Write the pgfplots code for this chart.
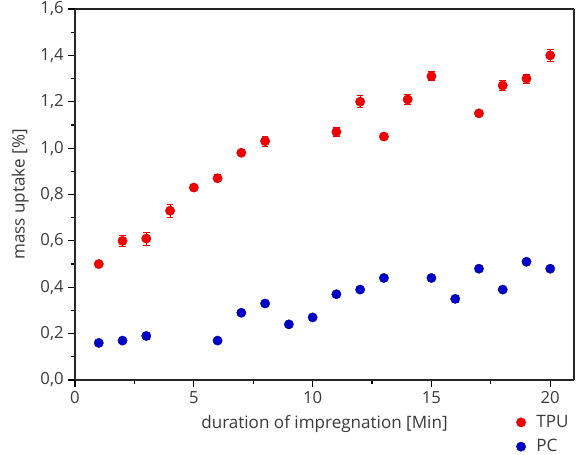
\documentclass[border=0pt]{standalone}
\usepackage{pgfplots}
\pgfplotsset{compat=1.18}
\usepackage{fontspec}
\setmainfont{Open Sans}
\definecolor{tpured}{HTML}{F00000}
\definecolor{pcblue}{HTML}{0000C8}
\definecolor{ticktext}{HTML}{3A3A3A}

\pgfplotstableread{
x   y     e
1   0.50  0.010
2   0.60  0.025
3   0.61  0.028
4   0.73  0.028
5   0.83  0.012
6   0.87  0.015
7   0.98  0.012
8   1.03  0.022
11  1.07  0.018
12  1.20  0.026
13  1.05  0.010
14  1.21  0.020
15  1.31  0.020
17  1.15  0.010
18  1.27  0.020
19  1.30  0.020
20  1.40  0.025
}\tputable

\pgfplotstableread{
x   y     e
1   0.16  0.012
2   0.17  0.008
3   0.19  0.014
6   0.17  0.008
7   0.29  0.012
8   0.33  0.008
9   0.24  0.012
10  0.27  0.012
11  0.37  0.010
12  0.39  0.008
13  0.44  0.008
15  0.44  0.008
16  0.35  0.014
17  0.48  0.010
18  0.39  0.008
19  0.51  0.010
20  0.48  0.008
}\pctable

\begin{document}
\begin{tikzpicture}
\begin{axis}[
    at={(0,0)}, anchor=origin,
    scale only axis,
    width=374.25pt, height=278.25pt,
    xmin=0, xmax=21, ymin=0, ymax=1.6,
    xtick={0,5,10,15,20},
    minor xtick={2.5,7.5,12.5,17.5},
    ytick={0,0.2,...,1.6},
    minor ytick={0.1,0.3,...,1.5},
    tick pos=left,
    tick align=outside,
    major tick length=5pt,
    minor tick length=3pt,
    tick style={black, line width=0.9pt},
    axis line style={line width=0.6pt, black!75},
    separate axis lines,
    x axis line style={line width=1.4pt, black!85},
    y axis line style={line width=1.4pt, black!85},
    /pgf/number format/assume math mode=true,
    /pgf/number format/use comma,
    yticklabel style={/pgf/number format/fixed, /pgf/number format/fixed zerofill, /pgf/number format/precision=1},
    tick label style={font=\fontsize{12.5}{14}\selectfont, text=ticktext},
    label style={font=\fontsize{12.8}{15}\selectfont, text=ticktext},
    xlabel={duration of impregnation [Min]},
    ylabel={mass uptake [\%]},
    xlabel style={yshift=-2pt},
    ylabel style={yshift=2pt},
    legend style={draw=none, fill=none, at={(0.876,-0.08)}, anchor=north west,
      font=\fontsize{12.8}{15}\selectfont, text=ticktext, row sep=3.5pt,
      /tikz/every odd column/.append style={column sep=6pt}},
    legend cell align=left,
  ]
  \addplot[only marks, mark=*, mark size=3.5pt, color=tpured,
    mark options={fill=tpured, draw=tpured!85!black, line width=0.3pt},
    error bars/.cd, y dir=both, y explicit,
    error bar style={line width=0.6pt, tpured},
    error mark options={mark size=2.5pt, line width=0.6pt, tpured, rotate=90}]
    table[x=x, y=y, y error=e]{\tputable};
  \addplot[only marks, mark=*, mark size=3.5pt, color=pcblue,
    mark options={fill=pcblue, draw=pcblue!70!black, line width=0.3pt},
    error bars/.cd, y dir=both, y explicit,
    error bar style={line width=0.6pt, pcblue!70!black},
    error mark options={mark size=2.5pt, line width=0.6pt, pcblue!70!black, rotate=90}]
    table[x=x, y=y, y error=e]{\pctable};
  \legend{TPU, PC}
\end{axis}
\pgfresetboundingbox
\useasboundingbox (-56.25pt,-55.5pt) rectangle (382.5pt,285pt);
\end{tikzpicture}
\end{document}
